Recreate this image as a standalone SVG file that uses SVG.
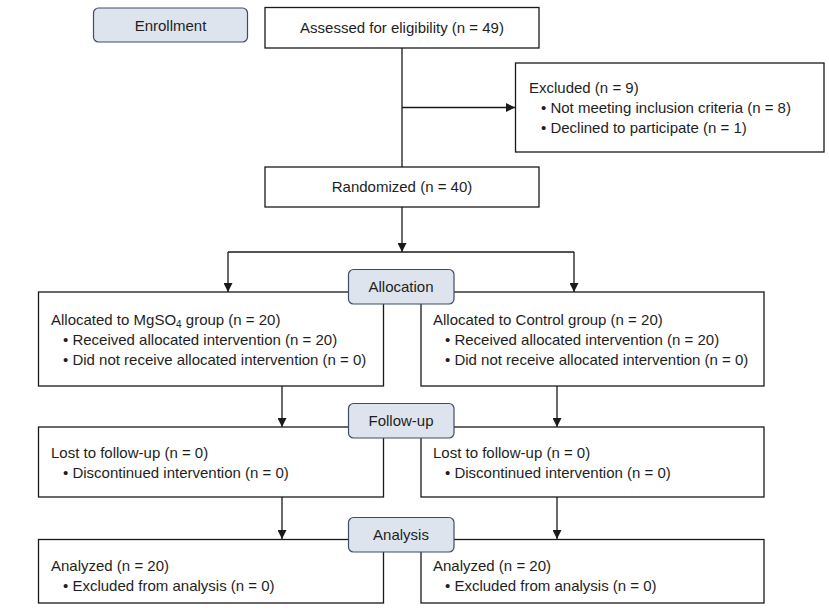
<svg xmlns="http://www.w3.org/2000/svg" width="829" height="613" viewBox="0 0 829 613">
<style>
  .box { fill: #ffffff; stroke: #1a1a1a; stroke-width: 1.3; }
  .lbl { fill: #dde4ee; stroke: #3e4c68; stroke-width: 1.2; }
  .t { font-family: "Liberation Sans", Arial, sans-serif; font-size: 15px; fill: #1e1e1e; }
  .c { text-anchor: middle; }
  .conn { stroke: #1a1a1a; stroke-width: 1.3; fill: none; }
  .arr { marker-end: url(#ah); }
</style>
<defs>
  <marker id="ah" viewBox="0 0 10 10" refX="10" refY="5" markerUnits="userSpaceOnUse" markerWidth="9" markerHeight="9" orient="auto">
    <path d="M0,0 L10,5 L0,10 z" fill="#1a1a1a"/>
  </marker>
</defs>
<rect width="829" height="613" fill="#ffffff"/>

<g id="connectors">
  <line class="conn" x1="402" y1="48" x2="402" y2="167"/>
  <line class="conn arr" x1="402" y1="107.5" x2="515" y2="107.5"/>
  <line class="conn arr" x1="402" y1="207" x2="402" y2="252"/>
  <line class="conn" x1="228" y1="252" x2="574" y2="252"/>
  <line class="conn arr" x1="228" y1="252" x2="228" y2="292"/>
  <line class="conn arr" x1="574" y1="252" x2="574" y2="292"/>
  <line class="conn arr" x1="282" y1="386" x2="282" y2="427"/>
  <line class="conn arr" x1="557" y1="386" x2="557" y2="427"/>
  <line class="conn arr" x1="282" y1="497" x2="282" y2="539"/>
  <line class="conn arr" x1="557" y1="497" x2="557" y2="539"/>
</g>

<g id="enrollment">
  <rect class="lbl" x="93.5" y="8" width="154" height="34" rx="5"/>
  <text class="t c" x="170.5" y="30.5">Enrollment</text>
</g>

<g id="assessed">
  <rect class="box" x="265" y="7.5" width="274" height="40.5"/>
  <text class="t c" x="402" y="33">Assessed for eligibility (n = 49)</text>
</g>

<g id="excluded">
  <rect class="box" x="515.5" y="63" width="308.5" height="89"/>
  <text class="t" x="529" y="93">Excluded (n = 9)</text>
  <text class="t" x="541" y="113">• Not meeting inclusion criteria (n = 8)</text>
  <text class="t" x="541" y="133">• Declined to participate (n = 1)</text>
</g>

<g id="randomized">
  <rect class="box" x="265" y="167" width="274" height="40"/>
  <text class="t c" x="402" y="192">Randomized (n = 40)</text>
</g>

<g id="alloc-left">
  <rect class="box" x="38.5" y="292" width="345" height="94"/>
  <text class="t" x="51" y="325">Allocated to MgSO<tspan font-size="10" dy="3">4</tspan><tspan dy="-3"> group (n = 20)</tspan></text>
  <text class="t" x="63" y="345">• Received allocated intervention (n = 20)</text>
  <text class="t" x="63" y="365">• Did not receive allocated intervention (n = 0)</text>
</g>

<g id="alloc-right">
  <rect class="box" x="421" y="292" width="343" height="94"/>
  <text class="t" x="433" y="325">Allocated to Control group (n = 20)</text>
  <text class="t" x="445" y="345">• Received allocated intervention (n = 20)</text>
  <text class="t" x="445" y="365">• Did not receive allocated intervention (n = 0)</text>
</g>

<g id="allocation">
  <rect class="lbl" x="348.5" y="269.5" width="105.5" height="34.5" rx="5"/>
  <text class="t c" x="401" y="292">Allocation</text>
</g>

<g id="followup-left">
  <rect class="box" x="38.5" y="427" width="345" height="70"/>
  <text class="t" x="51" y="458">Lost to follow-up (n = 0)</text>
  <text class="t" x="63" y="478">• Discontinued intervention (n = 0)</text>
</g>

<g id="followup-right">
  <rect class="box" x="421" y="427" width="343" height="70"/>
  <text class="t" x="433" y="458">Lost to follow-up (n = 0)</text>
  <text class="t" x="445" y="478">• Discontinued intervention (n = 0)</text>
</g>

<g id="followup">
  <rect class="lbl" x="348.5" y="403.5" width="105.5" height="34.5" rx="5"/>
  <text class="t c" x="401" y="426">Follow-up</text>
</g>

<g id="analysis-left">
  <rect class="box" x="38.5" y="539.5" width="345" height="63.5"/>
  <text class="t" x="51" y="571">Analyzed (n = 20)</text>
  <text class="t" x="63" y="591">• Excluded from analysis (n = 0)</text>
</g>

<g id="analysis-right">
  <rect class="box" x="421" y="539.5" width="343" height="63.5"/>
  <text class="t" x="433" y="571">Analyzed (n = 20)</text>
  <text class="t" x="445" y="591">• Excluded from analysis (n = 0)</text>
</g>

<g id="analysis">
  <rect class="lbl" x="348.5" y="517.5" width="105.5" height="34.5" rx="5"/>
  <text class="t c" x="401" y="540">Analysis</text>
</g>
</svg>
